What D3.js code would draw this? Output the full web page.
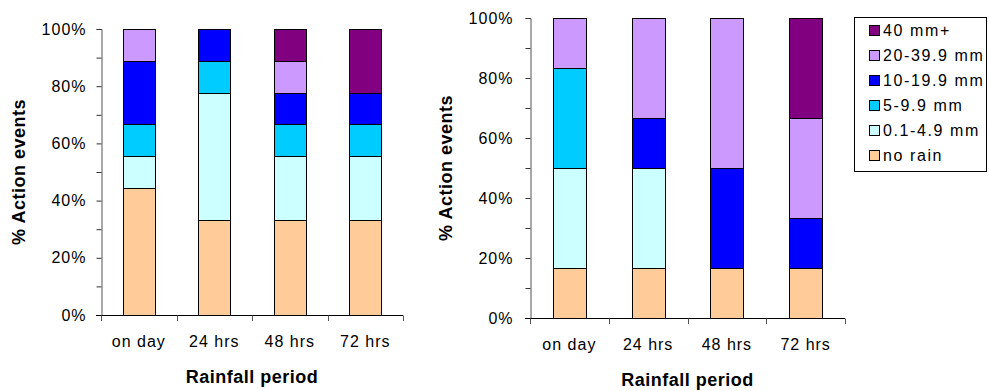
<!DOCTYPE html>
<html>
<head>
<meta charset="utf-8">
<script src="https://cdn.jsdelivr.net/npm/d3@7"></script>
<style>
  html, body { margin: 0; padding: 0; background: #fff; }
  svg { display: block; font-family: "Liberation Sans", Arial, sans-serif; }
</style>
</head>
<body>
<svg id="chart" width="989" height="391"></svg>
<script>
// Rainfall periods before each action event
const periods = ["on day", "24 hrs", "48 hrs", "72 hrs"];

// Rainfall classes, bottom of the stack first
const classes = ["no rain", "0.1-4.9 mm", "5-9.9 mm", "10-19.9 mm", "20-39.9 mm", "40 mm+"];
const classColors = ["#FFCC99", "#CCFFFF", "#00CCFF", "#0000FF", "#CC99FF", "#800080"];

// Percent of action events per rainfall class (left panel), one array per class
const leftNoRain   = [44.4, 33.3, 33.3, 33.3];
const leftLight    = [11.1, 44.4, 22.2, 22.2];
const leftModerate = [11.1, 11.1, 11.1, 11.1];
const leftHeavy    = [22.2, 11.1, 11.1, 11.1];
const leftVHeavy   = [11.1,  0.0, 11.1,  0.0];
const leftExtreme  = [ 0.0,  0.0, 11.1, 22.2];

// Percent of action events per rainfall class (right panel)
const rightNoRain   = [16.7, 16.7, 16.7, 16.7];
const rightLight    = [33.3, 33.3,  0.0,  0.0];
const rightModerate = [33.3,  0.0,  0.0,  0.0];
const rightHeavy    = [ 0.0, 16.7, 33.3, 16.7];
const rightVHeavy   = [16.7, 33.3, 50.0, 33.3];
const rightExtreme  = [ 0.0,  0.0,  0.0, 33.3];

const yTicks = [0, 0.2, 0.4, 0.6, 0.8, 1.0];
const yMinorTicks = [0.1, 0.3, 0.5, 0.7, 0.9];

const svg = d3.select("#chart");

function toRows(series) {
  return periods.map((p, i) => {
    const row = { period: p };
    classes.forEach((c, k) => { row[c] = series[k][i]; });
    return row;
  });
}

function drawPanel(series, box) {
  const rows = toRows(series);
  const stacked = d3.stack().keys(classes).offset(d3.stackOffsetExpand)(rows);

  const x = d3.scaleBand().domain(periods).range([box.x0, box.x1])
    .paddingInner(0.58).paddingOuter(0.29);
  const y = d3.scaleLinear().domain([0, 1]).range([box.y1, box.y0]);

  const g = svg.append("g");

  // stacked bars
  stacked.forEach((layer, k) => {
    g.append("g")
      .attr("fill", classColors[k])
      .attr("stroke", "#000")
      .attr("stroke-width", 1)
      .selectAll("rect")
      .data(layer)
      .join("rect")
      .attr("x", d => Math.round(x(d.data.period)) + 0.5)
      .attr("y", d => Math.round(y(d[1])) + 0.5)
      .attr("width", Math.round(x.bandwidth()))
      .attr("height", d => Math.round(y(d[0])) - Math.round(y(d[1])));
  });

  // y axis: major ticks with labels, minor ticks without
  const yAxis = g.append("g")
    .attr("transform", `translate(${box.x0 + 0.5},0)`)
    .call(d3.axisLeft(y).tickValues(yTicks).tickFormat(d3.format(".0%"))
      .tickSize(5).tickPadding(box.labelPad));
  yAxis.select(".domain").attr("stroke", "#555");
  yAxis.selectAll(".tick line").attr("stroke", "#333");
  yAxis.selectAll("text")
    .attr("font-size", 16).attr("letter-spacing", "1px").attr("fill", "#000")
    .attr("font-family", "Liberation Sans, Arial, sans-serif");

  const yMinor = g.append("g")
    .attr("transform", `translate(${box.x0 + 0.5},0)`)
    .call(d3.axisLeft(y).tickValues(yMinorTicks).tickFormat("").tickSize(5));
  yMinor.select(".domain").remove();
  yMinor.selectAll(".tick line").attr("stroke", "#333");

  // x axis: labels under each bar, ticks between categories
  const xAxis = g.append("g")
    .attr("transform", `translate(0,${box.y1 + 0.5})`)
    .call(d3.axisBottom(x).tickSize(0).tickPadding(20).tickSizeOuter(0));
  xAxis.select(".domain").attr("stroke", "#000").attr("d", `M${box.x0 - 5},0H${box.x1}`);
  xAxis.selectAll("text")
    .attr("font-size", 16).attr("letter-spacing", "1px").attr("fill", "#000")
    .attr("font-family", "Liberation Sans, Arial, sans-serif");

  const bounds = d3.range(periods.length + 1).map(i => box.x0 + i * x.step());
  g.append("g").selectAll("line")
    .data(bounds)
    .join("line")
    .attr("x1", d => Math.round(d) + 0.5).attr("x2", d => Math.round(d) + 0.5)
    .attr("y1", box.y1 + 0.5).attr("y2", box.y1 + 6)
    .attr("stroke", "#555");

  // axis titles
  g.append("text")
    .attr("x", (box.x0 + box.x1) / 2)
    .attr("y", box.xTitleY)
    .attr("text-anchor", "middle")
    .attr("font-size", 18).attr("font-weight", "bold").attr("letter-spacing", "0.5px")
    .text("Rainfall period");

  g.append("text")
    .attr("transform", `translate(${box.yTitleX},${(box.y0 + box.y1) / 2}) rotate(-90)`)
    .attr("text-anchor", "middle")
    .attr("font-size", 18).attr("font-weight", "bold").attr("letter-spacing", "0.5px")
    .text("% Action events");
}

drawPanel(
  [leftNoRain, leftLight, leftModerate, leftHeavy, leftVHeavy, leftExtreme],
  { x0: 101, x1: 403, y0: 29, y1: 315, labelPad: 10, xTitleY: 383, yTitleX: 25 }
);

drawPanel(
  [rightNoRain, rightLight, rightModerate, rightHeavy, rightVHeavy, rightExtreme],
  { x0: 530, x1: 845, y0: 18, y1: 318, labelPad: 12, xTitleY: 386, yTitleX: 452 }
);

// legend, top class first
const legend = svg.append("g");
legend.append("rect")
  .attr("x", 854.5).attr("y", 17.5).attr("width", 132).attr("height", 154)
  .attr("fill", "#fff").attr("stroke", "#000");

const legendItems = classes.map((c, k) => ({ label: c, color: classColors[k] })).reverse();
const item = legend.selectAll("g.item")
  .data(legendItems)
  .join("g")
  .attr("class", "item")
  .attr("transform", (d, i) => `translate(869,${30 + i * 25})`);
item.append("rect")
  .attr("x", 0.5).attr("y", -4.5).attr("width", 10).attr("height", 10)
  .attr("fill", d => d.color).attr("stroke", "#000");
item.append("text")
  .attr("x", 14).attr("y", 6)
  .attr("font-size", 16).attr("letter-spacing", "1.6px")
  .text(d => d.label);
</script>
</body>
</html>
